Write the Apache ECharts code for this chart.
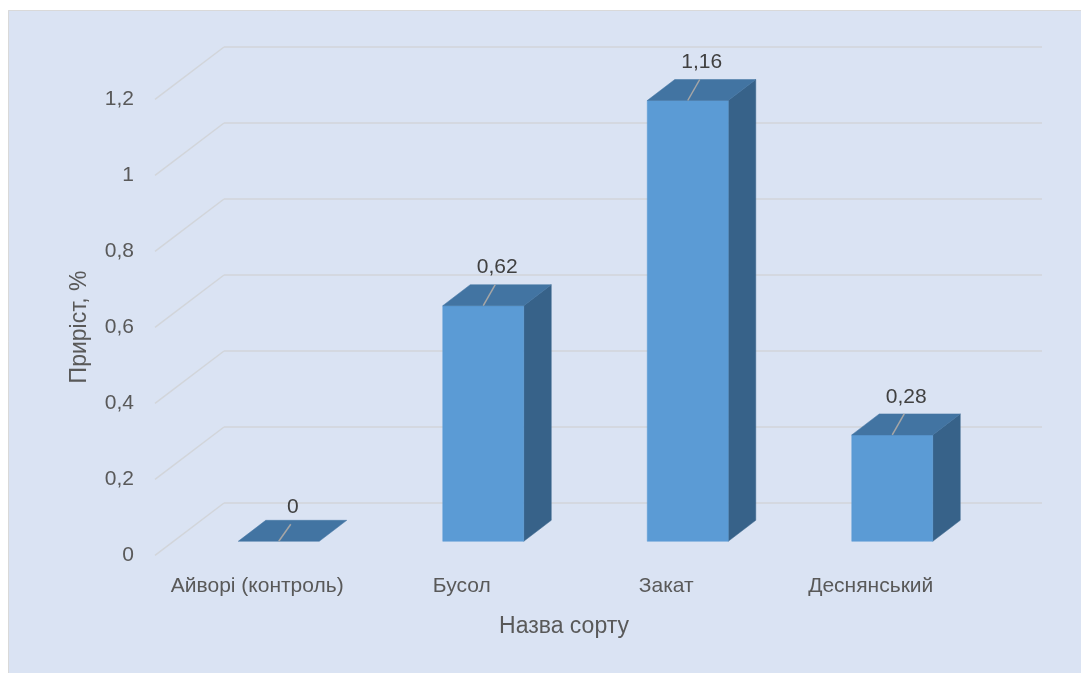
<!DOCTYPE html>
<html>
<head>
<meta charset="utf-8">
<script src="https://cdn.jsdelivr.net/npm/echarts@6/dist/echarts.min.js"></script>
<style>
  html, body { margin: 0; padding: 0; background: #ffffff; }
  #chart { width: 1081px; height: 673px; }
</style>
</head>
<body>
<div id="chart"></div>
<script>
// ---- data ----
const categories = ['Айворі (контроль)', 'Бусол', 'Закат', 'Деснянський'];
const growth = [0, 0.62, 1.16, 0.28];
const yTicks = [0, 0.2, 0.4, 0.6, 0.8, 1, 1.2];
const yTitle = 'Приріст, %';
const xTitle = 'Назва сорту';

// ---- 3D look (style only) ----
const FLOOR_DX = -69, FLOOR_DY = 52.3;       // back wall -> front floor edge
const BAR_FRONT = [-47.5, 38.3];              // back wall -> bar front plane
const BAR_BACK = [-20, 17.3];                 // back wall -> bar back plane
const BAR_HALF = 40.5;
const FONT = '"Liberation Sans", Arial, sans-serif';

const fmt = v => String(Number(v.toFixed(2))).replace('.', ',');

const chart = echarts.init(document.getElementById('chart'), null, { renderer: 'canvas' });

const option = {
  backgroundColor: '#dae3f3',
  animation: false,
  graphic: [
    { type: 'rect', shape: { x: 0, y: 0, width: 1081, height: 10 }, style: { fill: '#ffffff' }, silent: true },
    { type: 'rect', shape: { x: 0, y: 0, width: 8, height: 673 }, style: { fill: '#ffffff' }, silent: true },
    { type: 'polyline', shape: { points: [[8.5, 673], [8.5, 10.5], [1081, 10.5]] }, style: { stroke: '#d9d9d9', lineWidth: 1, fill: null }, silent: true }
  ],
  grid: [
    { left: 224, right: 39, top: 47, bottom: 170 },
    { left: 155, right: 108, top: 99, bottom: 118 }
  ],
  xAxis: [
    { type: 'category', gridIndex: 0, data: categories,
      axisLine: { show: false }, axisTick: { show: false }, axisLabel: { show: false }, splitLine: { show: false } },
    { type: 'category', gridIndex: 1, data: categories,
      axisLine: { show: false }, axisTick: { show: false }, splitLine: { show: false },
      axisLabel: { interval: 0, hideOverlap: false, margin: 21, color: '#595959', fontSize: 21, fontFamily: FONT },
      name: xTitle, nameLocation: 'middle', nameGap: 60,
      nameTextStyle: { color: '#595959', fontSize: 23, fontFamily: FONT } }
  ],
  yAxis: [
    { type: 'value', gridIndex: 0, min: 0, max: 1.2, interval: 0.2,
      axisLine: { show: false }, axisTick: { show: false }, axisLabel: { show: false },
      splitLine: { show: true, lineStyle: { color: '#d2d5da', width: 1.5 } } },
    { type: 'value', gridIndex: 1, min: 0, max: 1.2, interval: 0.2,
      axisLine: { show: false }, axisTick: { show: false }, splitLine: { show: false },
      axisLabel: { margin: 21, color: '#595959', fontSize: 21, fontFamily: FONT, formatter: v => fmt(v) },
      name: yTitle, nameLocation: 'middle', nameGap: 64, nameRotate: 90,
      nameTextStyle: { color: '#595959', fontSize: 23, fontFamily: FONT } }
  ],
  series: [
    {
      type: 'custom', xAxisIndex: 0, yAxisIndex: 0, silent: true, z: 1,
      data: yTicks.map(v => [0, v]),
      renderItem: function (params, api) {
        const cs = params.coordSys;
        const y = api.coord([0, api.value(1)])[1];
        return {
          type: 'line',
          shape: { x1: cs.x, y1: y, x2: cs.x + FLOOR_DX, y2: y + FLOOR_DY },
          style: { stroke: '#d2d5da', lineWidth: 1.5 }
        };
      }
    },
    {
      type: 'custom', xAxisIndex: 0, yAxisIndex: 0, silent: true, z: 3,
      data: growth.map((v, i) => [i, v]),
      renderItem: function (params, api) {
        const i = api.value(0), v = api.value(1);
        const base = api.coord([i, 0]);
        const top = api.coord([i, v]);
        const cx = base[0];
        const fl = cx + BAR_FRONT[0] - BAR_HALF, fr = cx + BAR_FRONT[0] + BAR_HALF;
        const bl = cx + BAR_BACK[0] - BAR_HALF, br = cx + BAR_BACK[0] + BAR_HALF;
        const fTop = top[1] + BAR_FRONT[1], fBot = base[1] + BAR_FRONT[1];
        const bTop = top[1] + BAR_BACK[1], bBot = base[1] + BAR_BACK[1];
        const children = [];
        if (fBot - fTop > 0.5) {
          children.push({ type: 'polygon', shape: { points: [[fr, fTop], [br, bTop], [br, bBot], [fr, fBot]] },
            style: { fill: '#376289', stroke: '#376289', lineWidth: 0.5 } });
          children.push({ type: 'rect', shape: { x: fl, y: fTop, width: fr - fl, height: fBot - fTop },
            style: { fill: '#5b9bd5', stroke: '#5b9bd5', lineWidth: 0.5 } });
        }
        children.push({ type: 'polygon', shape: { points: [[fl, fTop], [fr, fTop], [br, bTop], [bl, bTop]] },
          style: { fill: '#4274a2', stroke: '#4274a2', lineWidth: 0.5 } });
        const fc = cx + BAR_FRONT[0];
        const lead = v === 0 ? 17 : 21;
        const lab = v === 0 ? 34 : 38;
        children.push({ type: 'line', shape: { x1: fc, y1: fTop, x2: fc + 12, y2: fTop - lead },
          style: { stroke: '#a6a6a6', lineWidth: 1.5 } });
        children.push({ type: 'text', style: { text: fmt(v), x: fc + 14, y: fTop - lab,
          align: 'center', verticalAlign: 'middle', fill: '#404040', fontSize: 21, fontFamily: FONT } });
        return { type: 'group', children: children };
      }
    }
  ]
};
chart.setOption(option);
</script>
</body>
</html>
